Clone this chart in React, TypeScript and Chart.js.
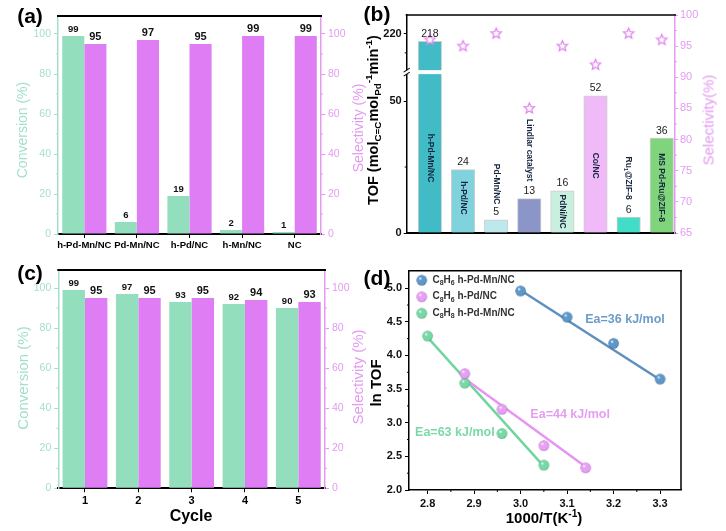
import React, { useEffect, useRef } from 'react';
import { Chart, registerables } from 'chart.js';

Chart.register(...registerables);

const FONT = '"Liberation Sans", Arial, Helvetica, sans-serif';

// ---------------- (a) catalyst comparison ----------------
const catalystsA = ['h-Pd-Mn/NC', 'Pd-Mn/NC', 'h-Pd/NC', 'h-Mn/NC', 'NC'];
const conversionA = [99, 6, 19, 2, 1];
const selectivityA = [95, 97, 95, 99, 99];
const percentTicks = [0, 20, 40, 60, 80, 100];

// ---------------- (b) TOF comparison ----------------
const catalystsB = ['h-Pd-Mn/NC', 'h-Pd/NC', 'Pd-Mn/NC', 'Lindlar catalyst', 'PdNi/NC', 'Co/NC', 'Ru_{1}@ZIF-8', 'MS Pd-Ru@ZIF-8'];
const tofB = [218, 24, 5, 13, 16, 52, 6, 36];
const selectivityB = [96, 95, 97, 85, 95, 92, 97, 96];
const tofTicks = [0, 50, 220];
const tofMinorTicks = [25, 215];
const selTicksB = [65, 70, 75, 80, 85, 90, 95, 100];
// where each rotated catalyst name is centred (TOF axis units, lower segment)
const nameCentreB = [28.4, 13.3, 18.5, 31.4, 8.1, 25.5, 20.8, 17.2];

// ---------------- (c) recycling ----------------
const cycles = ['1', '2', '3', '4', '5'];
const conversionC = [99, 97, 93, 92, 90];
const selectivityC = [95, 95, 95, 94, 93];

// ---------------- (d) Arrhenius ----------------
const legendD = ['C_{8}H_{6} h-Pd-Mn/NC', 'C_{8}H_{6} h-Pd/NC', 'C_{8}H_{8} h-Pd-Mn/NC'];
const invT_1 = [3.0, 3.1, 3.2, 3.3];
const lnTOF_1 = [4.96, 4.57, 4.18, 3.65];
const invT_2 = [2.88, 2.96, 3.05, 3.14];
const lnTOF_2 = [3.73, 3.2, 2.66, 2.33];
const invT_3 = [2.8, 2.88, 2.96, 3.05];
const lnTOF_3 = [4.29, 3.59, 2.84, 2.37];
const fitX_1 = [3.0, 3.3];
const fitY_1 = [4.97, 3.64];
const fitX_2 = [2.875, 3.145];
const fitY_2 = [3.68, 2.32];
const fitX_3 = [2.8, 3.05];
const fitY_3 = [4.27, 2.35];
const eaLabels = ['Ea=36 kJ/mol', 'Ea=44 kJ/mol', 'Ea=63 kJ/mol'];
const eaAtX = [3.139, 3.021, 2.773];
const eaAtY = [4.53, 3.115, 2.85];
const invTTicks = [2.8, 2.9, 3.0, 3.1, 3.2, 3.3];
const lnTOFTicks = [2.0, 2.5, 3.0, 3.5, 4.0, 4.5, 5.0];

// ---------------- styling ----------------
const GREEN = '#93dfbd';
const PINK = '#df7df4';
const MINT_TXT = '#a3dfcb';
const PINK_TXT = '#e39bf0';
const BAR_COLORS_B = ['#41bcc7', '#80d3dc', '#bde9ed', '#8b95c8', '#c9efdf', '#f0b9f8', '#43dcc7', '#80d47c'];
const SERIES_D = [
  { base: '#5e97c9', dark: '#2b5d8d', line: '#5f90bd', text: '#6b9dc9' },
  { base: '#e6a0f3', dark: '#b25cc4', line: '#e596f2', text: '#e59ef2' },
  { base: '#76d8a6', dark: '#3a9d6a', line: '#72d5a0', text: '#7bd9a6' },
];

// broken TOF axis: lower segment is 1:1, upper segment is compressed around 220
const BREAK_LOW = 60.2;
const BREAK_HIGH_AXIS = 61.7;
const UPPER_REF = 220;
const UPPER_REF_AXIS = 75.5;
const UPPER_SCALE = 1.45;
const toAxisB = (v: number) => (v <= BREAK_LOW ? v : UPPER_REF_AXIS + (v - UPPER_REF) * UPPER_SCALE);

type Seg = { t: string; s?: 'sub' | 'sup' };
function parseRich(s: string): Seg[] {
  const out: Seg[] = [];
  const re = /([_^])\{([^}]*)\}/g;
  let last = 0;
  let m: RegExpExecArray | null;
  while ((m = re.exec(s))) {
    if (m.index > last) out.push({ t: s.slice(last, m.index) });
    out.push({ t: m[2], s: m[1] === '_' ? 'sub' : 'sup' });
    last = re.lastIndex;
  }
  if (last < s.length) out.push({ t: s.slice(last) });
  return out;
}
function drawRich(ctx: CanvasRenderingContext2D, text: string, x: number, y: number, size: number, weight: string, color: string, align: 'left' | 'center') {
  const segs = parseRich(text);
  const small = size * 0.7;
  const fontOf = (sz: number) => `${weight} ${sz}px ${FONT}`;
  let total = 0;
  const widths = segs.map((sg) => {
    ctx.font = fontOf(sg.s ? small : size);
    const w = ctx.measureText(sg.t).width;
    total += w;
    return w;
  });
  let cx = align === 'center' ? x - total / 2 : x;
  ctx.fillStyle = color;
  ctx.textAlign = 'left';
  ctx.textBaseline = 'middle';
  segs.forEach((sg, i) => {
    ctx.font = fontOf(sg.s ? small : size);
    const dy = sg.s === 'sub' ? size * 0.3 : sg.s === 'sup' ? -size * 0.35 : 0;
    ctx.fillText(sg.t, cx, y + dy);
    cx += widths[i];
  });
}

const fixW = (w: number) => (s: any) => {
  s.width = w;
  s.paddingLeft = 0; s.paddingRight = 0; s.paddingTop = 0; s.paddingBottom = 0;
};
const fixH = (h: number) => (s: any) => {
  s.height = h;
  s.paddingLeft = 0; s.paddingRight = 0; s.paddingTop = 0; s.paddingBottom = 0;
};
const setTicks = (vals: number[]) => (s: any) => {
  s.ticks = vals.map((v) => ({ value: v }));
};
const midpoints = (vals: number[]) => vals.slice(1).map((v, i) => (v + vals[i]) / 2);

type Minor = { axis: string; values: number[]; side: 'left' | 'right' | 'bottom'; len: number; color: string };
const minorTicksPlugin = (list: Minor[]) => ({
  id: 'minorTicks',
  afterDraw(chart: any) {
    const { ctx, chartArea: a } = chart;
    ctx.save();
    ctx.lineWidth = 1;
    list.forEach((m) => {
      const sc = chart.scales[m.axis];
      ctx.strokeStyle = m.color;
      m.values.forEach((v) => {
        const p = sc.getPixelForValue(v);
        ctx.beginPath();
        if (m.side === 'left') { ctx.moveTo(a.left, p); ctx.lineTo(a.left - m.len, p); }
        else if (m.side === 'right') { ctx.moveTo(a.right, p); ctx.lineTo(a.right + m.len, p); }
        else { ctx.moveTo(p, a.bottom); ctx.lineTo(p, a.bottom + m.len); }
        ctx.stroke();
      });
    });
    ctx.restore();
  },
});

const framePlugin = (sides: { top?: string; right?: string }, width: number) => ({
  id: 'frame',
  afterDraw(chart: any) {
    const { ctx, chartArea: a } = chart;
    ctx.save();
    ctx.lineWidth = width;
    if (sides.top) {
      ctx.strokeStyle = sides.top;
      ctx.beginPath(); ctx.moveTo(a.left - 1, a.top); ctx.lineTo(a.right + 1, a.top); ctx.stroke();
    }
    if (sides.right) {
      ctx.strokeStyle = sides.right;
      ctx.beginPath(); ctx.moveTo(a.right, a.top); ctx.lineTo(a.right, a.bottom); ctx.stroke();
    }
    ctx.restore();
  },
});

function makeStar(color: string, R: number) {
  const c = document.createElement('canvas');
  const size = Math.ceil(R * 2 + 4);
  c.width = size; c.height = size;
  const g = c.getContext('2d')!;
  const cx = size / 2;
  g.beginPath();
  for (let i = 0; i < 10; i++) {
    const r = i % 2 === 0 ? R : R * 0.45;
    const ang = -Math.PI / 2 + (i * Math.PI) / 5;
    const x = cx + r * Math.cos(ang);
    const y = cx + r * Math.sin(ang);
    if (i === 0) g.moveTo(x, y); else g.lineTo(x, y);
  }
  g.closePath();
  g.fillStyle = '#ffffff';
  g.fill();
  g.strokeStyle = color;
  g.lineWidth = 1.2;
  g.stroke();
  return c;
}

function makeSphere(base: string, dark: string, r: number) {
  const c = document.createElement('canvas');
  const size = Math.ceil(r * 2 + 2);
  c.width = size; c.height = size;
  const g = c.getContext('2d')!;
  const cx = size / 2;
  const grad = g.createRadialGradient(cx - r * 0.35, cx - r * 0.4, r * 0.05, cx, cx, r);
  grad.addColorStop(0, '#ffffff');
  grad.addColorStop(0.3, base);
  grad.addColorStop(0.85, base);
  grad.addColorStop(1, dark);
  g.beginPath();
  g.arc(cx, cx, r, 0, Math.PI * 2);
  g.fillStyle = grad;
  g.fill();
  return c;
}

type Pad = { padL: number; padR: number; padT: number; padB: number; wl: number; wr: number; hx: number; xFont: number };

function makeConvSel(canvas: HTMLCanvasElement, labels: string[], conv: number[], sel: number[], p: Pad) {
  const valueLabels = {
    id: 'valueLabels',
    afterDatasetsDraw(chart: any) {
      const ctx = chart.ctx;
      ctx.save();
      ctx.textAlign = 'center';
      ctx.textBaseline = 'bottom';
      ctx.fillStyle = '#111';
      chart.data.datasets.forEach((ds: any, di: number) => {
        ctx.font = `bold ${di === 0 ? 9.5 : 11}px ${FONT}`;
        chart.getDatasetMeta(di).data.forEach((el: any, i: number) => {
          ctx.fillText(String(ds.data[i]), el.x, el.y - 1.5);
        });
      });
      ctx.restore();
    },
  };
  const minor = midpoints(percentTicks);
  return new Chart(canvas, {
    type: 'bar',
    data: {
      labels,
      datasets: [
        { data: conv, backgroundColor: GREEN, yAxisID: 'y', categoryPercentage: 0.84, barPercentage: 1, borderWidth: 0 },
        { data: sel, backgroundColor: PINK, yAxisID: 'y1', categoryPercentage: 0.84, barPercentage: 1, borderWidth: 0 },
      ],
    },
    options: {
      animation: false,
      responsive: false,
      events: [],
      layout: { padding: { left: p.padL, right: p.padR, top: p.padT, bottom: p.padB } },
      plugins: { legend: { display: false }, tooltip: { enabled: false } },
      scales: {
        x: {
          type: 'category',
          offset: true,
          grid: { display: true, drawOnChartArea: false, drawTicks: true, tickLength: 4, color: '#000', offset: false },
          border: { display: true, color: '#000', width: 2 },
          ticks: { color: '#000', font: { family: FONT, weight: 'bold', size: p.xFont }, padding: 2, maxRotation: 0, autoSkip: false },
          afterFit: fixH(p.hx),
        },
        y: {
          position: 'left',
          min: 0,
          max: 109,
          afterBuildTicks: setTicks(percentTicks),
          grid: { display: true, drawOnChartArea: false, drawTicks: true, tickLength: 4, color: MINT_TXT },
          border: { display: true, color: MINT_TXT, width: 1.5 },
          ticks: { color: MINT_TXT, font: { family: FONT, size: 10.5 }, padding: 3 },
          afterFit: fixW(p.wl),
        },
        y1: {
          position: 'right',
          min: 0,
          max: 109,
          afterBuildTicks: setTicks(percentTicks),
          grid: { display: true, drawOnChartArea: false, drawTicks: true, tickLength: 4, color: PINK_TXT },
          border: { display: true, color: PINK_TXT, width: 1.5 },
          ticks: { color: PINK_TXT, font: { family: FONT, size: 10.5 }, padding: 3 },
          afterFit: fixW(p.wr),
        },
      },
    } as any,
    plugins: [
      valueLabels,
      framePlugin({ top: '#000' }, 2),
      minorTicksPlugin([
        { axis: 'y', values: minor, side: 'left', len: 2, color: MINT_TXT },
        { axis: 'y1', values: minor, side: 'right', len: 2, color: PINK_TXT },
      ]),
    ],
  });
}

function makeTOF(canvas: HTMLCanvasElement) {
  const star = makeStar('#e07ef0', 5.5);
  const extras = {
    id: 'tofExtras',
    afterDatasetsDraw(chart: any) {
      const ctx = chart.ctx as CanvasRenderingContext2D;
      const y = chart.scales.y;
      const a = chart.chartArea;
      const bars = chart.getDatasetMeta(0).data;
      ctx.save();
      // axis break across the tall first bar and the left axis
      const yHi = y.getPixelForValue(BREAK_HIGH_AXIS);
      const yLo = y.getPixelForValue(BREAK_LOW);
      const b0 = bars[0];
      ctx.fillStyle = '#fff';
      ctx.fillRect(a.left - 3, yHi, b0.x + b0.width / 2 + 1 - (a.left - 3), yLo - yHi);
      ctx.strokeStyle = '#000';
      ctx.lineWidth = 1.1;
      [yHi, yLo].forEach((yy) => {
        ctx.beginPath();
        ctx.moveTo(a.left - 3, yy + 2);
        ctx.lineTo(a.left + 3, yy - 2);
        ctx.stroke();
      });
      // value labels
      ctx.fillStyle = '#222';
      ctx.font = `10.5px ${FONT}`;
      ctx.textAlign = 'center';
      ctx.textBaseline = 'bottom';
      bars.forEach((el: any, i: number) => {
        ctx.fillText(String(tofB[i]), el.x, el.y - 2);
      });
      // rotated catalyst names
      bars.forEach((el: any, i: number) => {
        ctx.save();
        ctx.translate(el.x, y.getPixelForValue(nameCentreB[i]));
        ctx.rotate(Math.PI / 2);
        drawRich(ctx, catalystsB[i], 0, 0, 8.5, 'bold', '#16263f', 'center');
        ctx.restore();
      });
      ctx.restore();
    },
  };
  return new Chart(canvas, {
    type: 'bar',
    data: {
      datasets: [
        {
          type: 'bar',
          data: tofB.map((v, i) => ({ x: i + 1, y: toAxisB(v) })),
          backgroundColor: BAR_COLORS_B,
          borderColor: 'rgba(60,60,60,0.25)',
          borderWidth: 1,
          barThickness: 23.5,
          yAxisID: 'y',
          order: 2,
        },
        {
          type: 'line',
          data: selectivityB.map((v, i) => ({ x: i + 1, y: v })),
          showLine: false,
          pointStyle: star,
          pointRadius: 6,
          yAxisID: 'y1',
          order: 1,
        },
      ],
    },
    options: {
      animation: false,
      responsive: false,
      events: [],
      layout: { padding: { left: 13.7, right: 21, top: 15, bottom: 24 } },
      plugins: { legend: { display: false }, tooltip: { enabled: false } },
      scales: {
        x: {
          type: 'linear',
          offset: false,
          min: 0.3,
          max: 8.4,
          grid: { display: false },
          border: { display: true, color: '#000', width: 2 },
          ticks: { display: false },
          afterFit: fixH(5),
        },
        y: {
          position: 'left',
          min: 0,
          max: 82.6,
          afterBuildTicks: setTicks(tofTicks.map(toAxisB)),
          grid: { display: true, drawOnChartArea: false, drawTicks: true, tickLength: 3, color: '#000' },
          border: { display: true, color: '#000', width: 1.5 },
          ticks: {
            color: '#111',
            font: { family: FONT, size: 11, weight: 'bold' },
            padding: 2,
            callback: (v: number) => {
              const i = tofTicks.findIndex((t) => Math.abs(toAxisB(t) - v) < 1e-6);
              return i >= 0 ? String(tofTicks[i]) : '';
            },
          },
          afterFit: fixW(30),
        },
        y1: {
          position: 'right',
          min: 65,
          max: 100,
          afterBuildTicks: setTicks(selTicksB),
          grid: { display: true, drawOnChartArea: false, drawTicks: true, tickLength: 3, color: PINK_TXT },
          border: { display: true, color: PINK_TXT, width: 1.5 },
          ticks: { color: PINK_TXT, font: { family: FONT, size: 11 }, padding: 2 },
          afterFit: fixW(30),
        },
      },
    } as any,
    plugins: [
      extras,
      framePlugin({ top: '#000' }, 1.5),
      minorTicksPlugin([
        { axis: 'y', values: tofMinorTicks.map(toAxisB), side: 'left', len: 2, color: '#000' },
        { axis: 'y1', values: midpoints(selTicksB), side: 'right', len: 2, color: PINK_TXT },
      ]),
    ],
  });
}

function makeArrhenius(canvas: HTMLCanvasElement) {
  const spheres = SERIES_D.map((s) => makeSphere(s.base, s.dark, 5.2));
  const xs = [invT_1, invT_2, invT_3];
  const ys = [lnTOF_1, lnTOF_2, lnTOF_3];
  const fx = [fitX_1, fitX_2, fitX_3];
  const fy = [fitY_1, fitY_2, fitY_3];
  const fitSets = fx.map((arr, k) => ({
    type: 'line',
    data: arr.map((x, i) => ({ x, y: fy[k][i] })),
    borderColor: SERIES_D[k].line,
    borderWidth: 2.5,
    pointRadius: 0,
    showLine: true,
    order: 5,
  }));
  const pointSets = xs.map((arr, k) => ({
    type: 'scatter',
    data: arr.map((x, i) => ({ x, y: ys[k][i] })),
    pointStyle: spheres[k],
    pointRadius: 5,
    order: 1,
  }));
  const extras = {
    id: 'arrExtras',
    afterDraw(chart: any) {
      const ctx = chart.ctx as CanvasRenderingContext2D;
      const a = chart.chartArea;
      const sx = chart.scales.x;
      const sy = chart.scales.y;
      ctx.save();
      legendD.forEach((t, k) => {
        const yy = a.top + 9.5 + k * 16.5;
        const img = spheres[k];
        ctx.drawImage(img, a.left + 12.7 - img.width / 2, yy - img.height / 2);
        drawRich(ctx, t, a.left + 23.5, yy, 10, 'bold', '#333', 'left');
      });
      eaLabels.forEach((t, k) => {
        ctx.font = `bold 12.5px ${FONT}`;
        ctx.fillStyle = SERIES_D[k].text;
        ctx.textAlign = 'left';
        ctx.textBaseline = 'middle';
        ctx.fillText(t, sx.getPixelForValue(eaAtX[k]), sy.getPixelForValue(eaAtY[k]));
      });
      ctx.restore();
    },
  };
  return new Chart(canvas, {
    type: 'scatter',
    data: { datasets: [...fitSets, ...pointSets] as any },
    options: {
      animation: false,
      responsive: false,
      events: [],
      layout: { padding: { left: 16, right: 45, top: 8.7, bottom: 19 } },
      plugins: { legend: { display: false }, tooltip: { enabled: false } },
      scales: {
        x: {
          type: 'linear',
          min: 2.76,
          max: 3.345,
          afterBuildTicks: setTicks(invTTicks),
          grid: { display: true, drawOnChartArea: false, drawTicks: true, tickLength: 4, color: '#000' },
          border: { display: true, color: '#000', width: 1.5 },
          ticks: { color: '#111', font: { family: FONT, size: 11, weight: 'bold' }, padding: 3, callback: (v: number) => v.toFixed(1) },
          afterFit: fixH(22),
        },
        y: {
          type: 'linear',
          min: 2.0,
          max: 5.26,
          afterBuildTicks: setTicks(lnTOFTicks),
          grid: { display: true, drawOnChartArea: false, drawTicks: true, tickLength: 4, color: '#000' },
          border: { display: true, color: '#000', width: 1.5 },
          ticks: { color: '#111', font: { family: FONT, size: 11, weight: 'bold' }, padding: 3, callback: (v: number) => v.toFixed(1) },
          afterFit: fixW(30),
        },
      },
    } as any,
    plugins: [
      extras,
      framePlugin({ top: '#000', right: '#000' }, 1.5),
      minorTicksPlugin([
        { axis: 'y', values: midpoints(lnTOFTicks), side: 'left', len: 2, color: '#000' },
        { axis: 'x', values: midpoints(invTTicks), side: 'bottom', len: 2, color: '#000' },
      ]),
    ],
  });
}

function ChartBox({ left, top, width, height, make }: { left: number; top: number; width: number; height: number; make: (c: HTMLCanvasElement) => Chart }) {
  const ref = useRef<HTMLCanvasElement>(null);
  useEffect(() => {
    const ch = make(ref.current!);
    return () => ch.destroy();
  }, []);
  return <canvas ref={ref} width={width} height={height} style={{ position: 'absolute', left, top, width, height }} />;
}

function Label({ x, y, rot, size, color, bold, children }: { x: number; y: number; rot?: boolean; size: number; color: string; bold?: boolean; children: React.ReactNode }) {
  return (
    <div
      style={{
        position: 'absolute',
        left: x,
        top: y,
        transform: `translate(-50%, -50%)${rot ? ' rotate(-90deg)' : ''}`,
        whiteSpace: 'nowrap',
        fontFamily: FONT,
        fontSize: size,
        fontWeight: bold ? 'bold' : 'normal',
        color,
        lineHeight: 1,
      }}
    >
      {children}
    </div>
  );
}

const subStyle: React.CSSProperties = { fontSize: '0.68em', verticalAlign: '-0.3em', lineHeight: 0 };
const supStyle: React.CSSProperties = { fontSize: '0.68em', verticalAlign: '0.55em', lineHeight: 0 };

export default function App() {
  const padA: Pad = { padL: 13, padR: 9, padT: 16, padB: 6, wl: 45, wr: 40, hx: 22, xFont: 9.5 };
  const padC: Pad = { padL: 13.3, padR: 5, padT: 8, padB: 20.7, wl: 45, wr: 40, hx: 22, xFont: 11 };
  return (
    <div style={{ position: 'absolute', left: 0, top: 0, width: 726, height: 531, background: '#fff', overflow: 'hidden' }}>
      <ChartBox left={0} top={0} width={370} height={262} make={(c) => makeConvSel(c, catalystsA, conversionA, selectivityA, padA)} />
      <ChartBox left={363} top={0} width={363} height={262} make={makeTOF} />
      <ChartBox left={0} top={262} width={370} height={269} make={(c) => makeConvSel(c, cycles, conversionC, selectivityC, padC)} />
      <ChartBox left={363} top={262} width={363} height={269} make={makeArrhenius} />

      <Label x={30} y={15} size={21} color="#000" bold>(a)</Label>
      <Label x={377} y={13} size={21} color="#000" bold>(b)</Label>
      <Label x={30} y={272} size={21} color="#000" bold>(c)</Label>
      <Label x={377} y={277} size={21} color="#000" bold>(d)</Label>

      <Label x={22} y={130} rot size={14} color={MINT_TXT}>Conversion (%)</Label>
      <Label x={358} y={128} rot size={14} color={PINK_TXT}>Selectivity (%)</Label>

      <Label x={373} y={120} rot size={14.5} color="#000" bold>
        TOF (mol<span style={subStyle}>C=C</span>mol<span style={subStyle}>Pd</span><span style={supStyle}>-1</span>min<span style={supStyle}>-1</span>)
      </Label>
      <Label x={708} y={120} rot size={15} color={PINK_TXT}>Selectivity(%)</Label>

      <Label x={22} y={378} rot size={15} color={MINT_TXT}>Conversion (%)</Label>
      <Label x={357} y={377} rot size={15} color={PINK_TXT}>Selectivity (%)</Label>
      <Label x={191} y={516} size={16} color="#000" bold>Cycle</Label>

      <Label x={375} y={383} rot size={15} color="#000" bold>ln TOF</Label>
      <Label x={544} y={517} size={15} color="#000" bold>
        1000/T(K<span style={supStyle}>-1</span>)
      </Label>
    </div>
  );
}
